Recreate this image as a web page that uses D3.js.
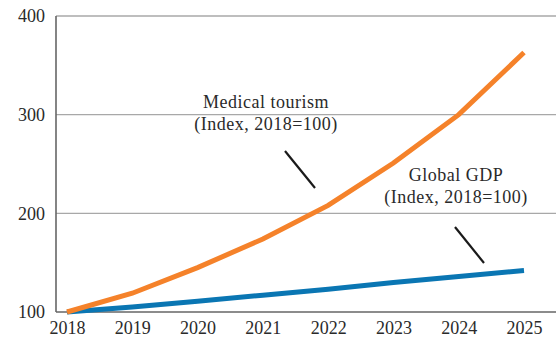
<!DOCTYPE html>
<html>
<head>
<meta charset="utf-8">
<script src="https://cdn.jsdelivr.net/npm/d3@7"></script>
<style>
  html, body { margin: 0; padding: 0; background: #fff; }
  svg { display: block; }
  text { font-family: "Liberation Serif", "DejaVu Serif", serif; fill: #2a2a2a; }
</style>
</head>
<body>
<svg id="chart" width="556" height="338"></svg>
<script>
// Index values, 2018 = 100
const years = [2018, 2019, 2020, 2021, 2022, 2023, 2024, 2025];
const medicalTourism = [100, 119, 145, 174, 208, 251, 300, 363];
const globalGDP = [100, 105, 111, 117, 123, 130, 136, 142];
const yTicks = [100, 200, 300, 400];

const svg = d3.select("#chart");
const plotLeft = 56, plotRight = 556, plotTop = 16, plotBottom = 312;
const fontSize = 18;

const x = d3.scalePoint().domain(years).range([67, 524]);
const y = d3.scaleLinear().domain([100, 400]).range([plotBottom, plotTop]);

// horizontal gridlines
svg.append("g")
  .selectAll("line")
  .data(yTicks.slice(1))
  .join("line")
  .attr("x1", plotLeft).attr("x2", plotRight)
  .attr("y1", d => y(d)).attr("y2", d => y(d))
  .attr("stroke", "#a8a8a8").attr("stroke-width", 1.3);

// y axis labels
const yAxis = d3.axisLeft(y).tickValues(yTicks).tickSize(0).tickPadding(11);
const gy = svg.append("g").attr("transform", `translate(${plotLeft},0)`).call(yAxis);
gy.select(".domain").remove();
gy.selectAll("text")
  .attr("font-size", fontSize)
  .attr("fill", "#2a2a2a");

// x axis labels
const xAxis = d3.axisBottom(x).tickSize(0).tickPadding(9);
const gx = svg.append("g").attr("transform", `translate(0,${plotBottom})`).call(xAxis);
gx.select(".domain").remove();
gx.selectAll("text")
  .attr("font-size", fontSize)
  .attr("fill", "#2a2a2a");

// axis lines
svg.append("line")
  .attr("x1", plotLeft).attr("x2", plotLeft).attr("y1", plotTop).attr("y2", plotBottom)
  .attr("stroke", "#666").attr("stroke-width", 1.6);
svg.append("line")
  .attr("x1", plotLeft).attr("x2", plotRight).attr("y1", plotBottom).attr("y2", plotBottom)
  .attr("stroke", "#666").attr("stroke-width", 1.6);

// series lines
const line = d3.line().x((d, i) => x(years[i])).y(d => y(d));
svg.append("path")
  .datum(globalGDP)
  .attr("d", line)
  .attr("fill", "none")
  .attr("stroke", "#0a76b3")
  .attr("stroke-width", 5);
svg.append("path")
  .datum(medicalTourism)
  .attr("d", line)
  .attr("fill", "none")
  .attr("stroke", "#f5822a")
  .attr("stroke-width", 5);

// annotations
function label(cx, y1, lines) {
  svg.append("text")
    .attr("text-anchor", "middle")
    .attr("font-size", fontSize)
    .attr("letter-spacing", 0.5)
    .selectAll("tspan")
    .data(lines)
    .join("tspan")
    .attr("x", cx)
    .attr("y", (d, i) => y1 + i * 22)
    .text(d => d);
}
label(266, 108, ["Medical tourism", "(Index, 2018=100)"]);
label(456, 181, ["Global GDP", "(Index, 2018=100)"]);

svg.append("line")
  .attr("x1", 285).attr("y1", 151).attr("x2", 315).attr("y2", 188)
  .attr("stroke", "#1a1a1a").attr("stroke-width", 2.2);
svg.append("line")
  .attr("x1", 455).attr("y1", 227).attr("x2", 484).attr("y2", 263)
  .attr("stroke", "#1a1a1a").attr("stroke-width", 2.2);
</script>
</body>
</html>
